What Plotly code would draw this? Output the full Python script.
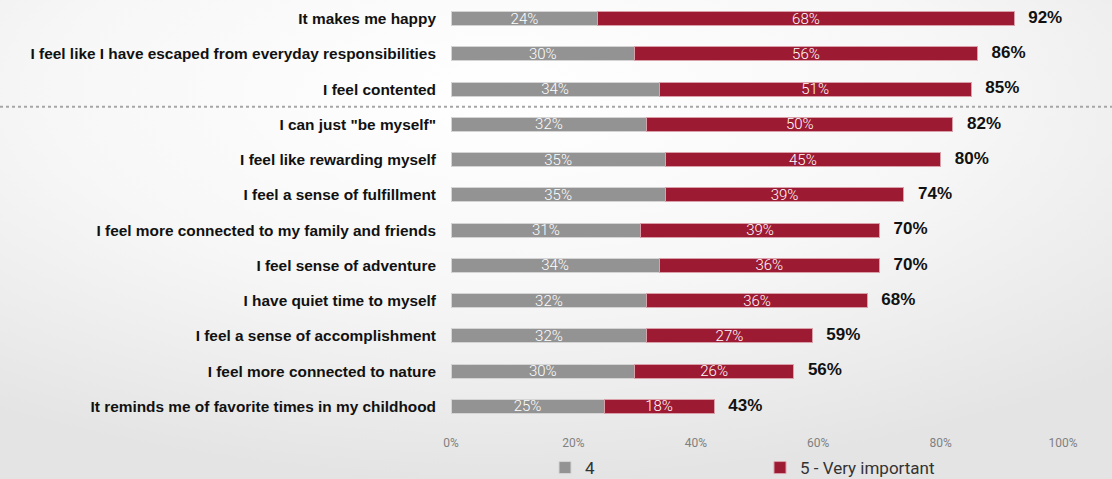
import base64
import plotly.graph_objects as go

# Survey statements, top to bottom
statements = [
    "It makes me happy",
    "I feel like I have escaped from everyday responsibilities",
    "I feel contented",
    'I can just "be myself"',
    "I feel like rewarding myself",
    "I feel a sense of fulfillment",
    "I feel more connected to my family and friends",
    "I feel sense of adventure",
    "I have quiet time to myself",
    "I feel a sense of accomplishment",
    "I feel more connected to nature",
    "It reminds me of favorite times in my childhood",
]
score_4 = [24, 30, 34, 32, 35, 35, 31, 34, 32, 32, 30, 25]
score_5 = [68, 56, 51, 50, 45, 39, 39, 36, 36, 27, 26, 18]
totals = [92, 86, 85, 82, 80, 74, 70, 70, 68, 59, 56, 43]
tick_vals = [0, 20, 40, 60, 80, 100]
tick_text = ["0%", "20%", "40%", "60%", "80%", "100%"]
series_names = ["4", "5 - Very important"]

GRAY = "#939393"
RED = "#9d1a33"
THIN = "Roboto, Liberation Sans, sans-serif"
BOLD = "Liberation Sans, Arial, sans-serif"

fig = go.Figure()
for vals, name, color, edge in [(score_4, series_names[0], GRAY, "#d4d4d4"),
                                (score_5, series_names[1], RED, "#d9a0aa")]:
    fig.add_trace(go.Bar(
        y=statements, x=vals, name=name, orientation="h",
        marker=dict(color=color, line=dict(color=edge, width=1)),
        text=[f"{v}%" for v in vals], textposition="inside",
        insidetextanchor="middle", textangle=0, constraintext="none",
        textfont=dict(color="white", size=15, family=THIN, weight=300),
    ))

# totals to the right of each stacked bar
fig.add_trace(go.Scatter(
    y=statements, x=totals, mode="text",
    text=[f"&nbsp;&nbsp;&nbsp;{v}%" for v in totals], textposition="middle right",
    textfont=dict(color="#111111", size=17, family=BOLD, weight="bold"),
    showlegend=False, hoverinfo="skip", cliponaxis=False,
))

# soft radial background
svg = (
    '<svg xmlns="http://www.w3.org/2000/svg" width="1112" height="479" preserveAspectRatio="none">'
    '<defs><radialGradient id="g" cx="0.45" cy="0.2" r="0.8">'
    '<stop offset="0" stop-color="#ffffff"/>'
    '<stop offset="0.5" stop-color="#f7f7f7"/>'
    '<stop offset="1" stop-color="#e4e4e4"/>'
    '</radialGradient></defs>'
    '<rect width="1112" height="479" fill="url(#g)"/></svg>'
)
bg = "data:image/svg+xml;base64," + base64.b64encode(svg.encode()).decode()

W, H = 1112, 479
plot_left, plot_right = 451, 1063
top, bottom = 1, 55
plot_w = plot_right - plot_left
plot_h = H - top - bottom
n = len(statements)

fig.update_layout(
    width=W, height=H,
    margin=dict(l=plot_left, r=W - plot_right, t=top, b=bottom, autoexpand=False),
    barmode="stack", bargap=0.6,
    paper_bgcolor="#f4f4f4", plot_bgcolor="rgba(0,0,0,0)",
    images=[dict(source=bg, xref="paper", yref="paper",
                 x=-plot_left / plot_w, y=1 + top / plot_h,
                 sizex=W / plot_w, sizey=H / plot_h,
                 xanchor="left", yanchor="top", sizing="stretch",
                 layer="below")],
    xaxis=dict(range=[0, 100], tickvals=tick_vals, ticktext=tick_text,
               showgrid=False, zeroline=False, showline=False,
               ticks="", ticklabelstandoff=10,
               tickfont=dict(size=12, color="#808080", family=THIN)),
    yaxis=dict(categoryorder="array", categoryarray=statements[::-1],
               range=[-0.5, n - 0.5],
               showgrid=False, zeroline=False, ticks="",
               tickfont=dict(size=15.4, color="#111111", family=BOLD, weight="bold"),
               ticklabelstandoff=14),
    showlegend=True,
    legend=dict(orientation="h", x=(545 - plot_left) / plot_w, xanchor="left",
                y=-(468 - plot_h - top) / plot_h, yanchor="middle",
                bgcolor="rgba(0,0,0,0)",
                entrywidth=170, entrywidthmode="pixels",
                font=dict(size=17, color="#333333", family=THIN),
                itemwidth=30, traceorder="normal"),
    shapes=[dict(type="line", xref="paper", yref="y",
                 x0=-plot_left / plot_w, x1=(W - plot_left) / plot_w,
                 y0=n - 3.5, y1=n - 3.5,
                 line=dict(color="#a6a6a6", width=2, dash="dot"))],
)

fig.write_html("out.html")
